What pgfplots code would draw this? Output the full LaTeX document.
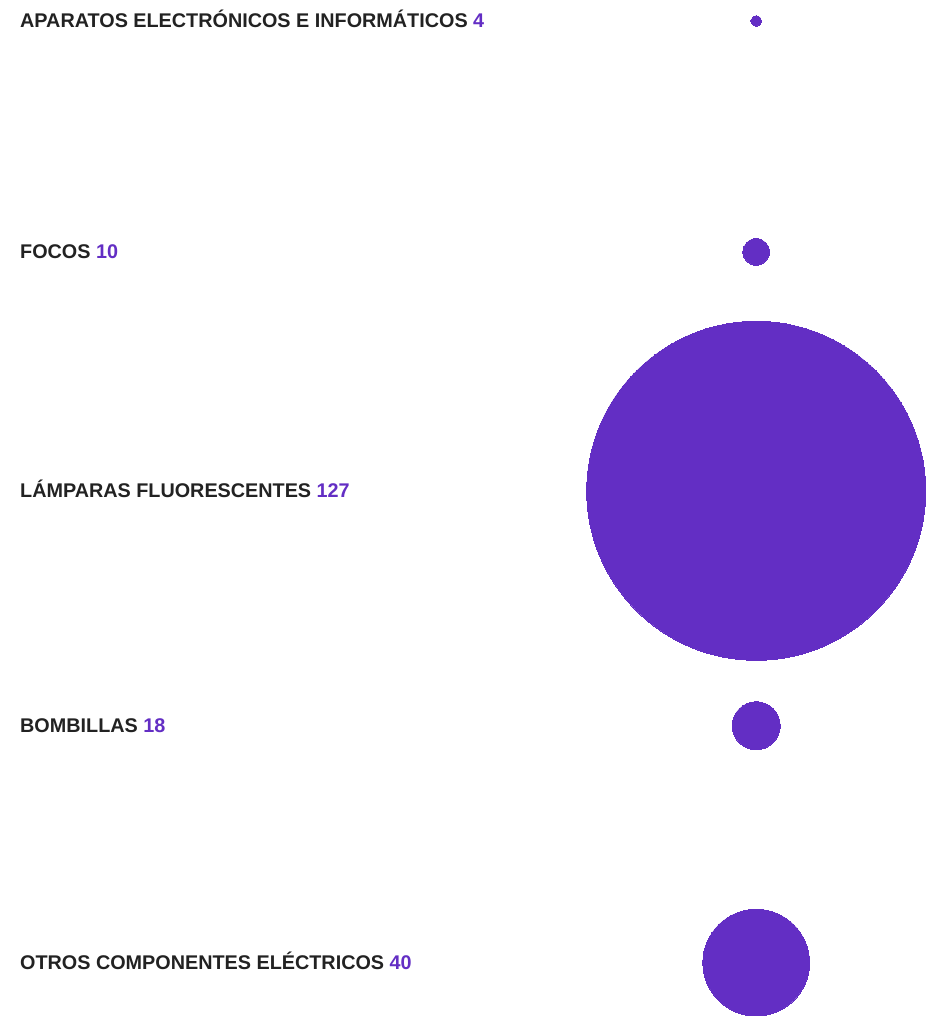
\documentclass[border=0pt]{standalone}
\usepackage{pgfplots}
\pgfplotsset{compat=1.18}
\usepackage{fontspec}
\setmainfont{Liberation Sans}
\definecolor{bub}{HTML}{632EC4}
\definecolor{txt}{HTML}{222222}
\begin{document}
\begin{tikzpicture}
\begin{axis}[
  width=935pt, height=1016pt, scale only axis,
  xmin=0, xmax=935, ymin=0, ymax=1016, y dir=reverse,
  hide axis, clip=true,
]
\addplot[only marks, mark=*, draw=bub, fill=bub, mark options={draw=bub, fill=bub, line width=0pt},
  visualization depends on={value \thisrow{v} \as \val},
  scatter,
  scatter/@pre marker code/.code={\pgfmathsetmacro\rr{1.335*\val}\scope[mark size=\rr pt]},
  scatter/@post marker code/.code={\endscope},
] table {
x y v
756.5 21 4
756.5 252 10
756.5 491 127
756.5 726 18
756.5 963 40
};
\draw[draw=none] (rel axis cs:0,0) rectangle (rel axis cs:1,1);
\tikzset{lab/.style={anchor=base west, inner sep=0pt, font=\fontsize{19.8}{22}\selectfont\bfseries, text=txt}}
\node[lab] at (axis cs:20,28) {APARATOS ELECTRÓNICOS E INFORMÁTICOS \textcolor{bub}{4}};
\node[lab] at (axis cs:20,259) {FOCOS \textcolor{bub}{10}};
\node[lab] at (axis cs:20,498) {LÁMPARAS FLUORESCENTES \textcolor{bub}{127}};
\node[lab] at (axis cs:20,733) {BOMBILLAS \textcolor{bub}{18}};
\node[lab] at (axis cs:20,970) {OTROS COMPONENTES ELÉCTRICOS \textcolor{bub}{40}};
\end{axis}
\end{tikzpicture}
\end{document}
